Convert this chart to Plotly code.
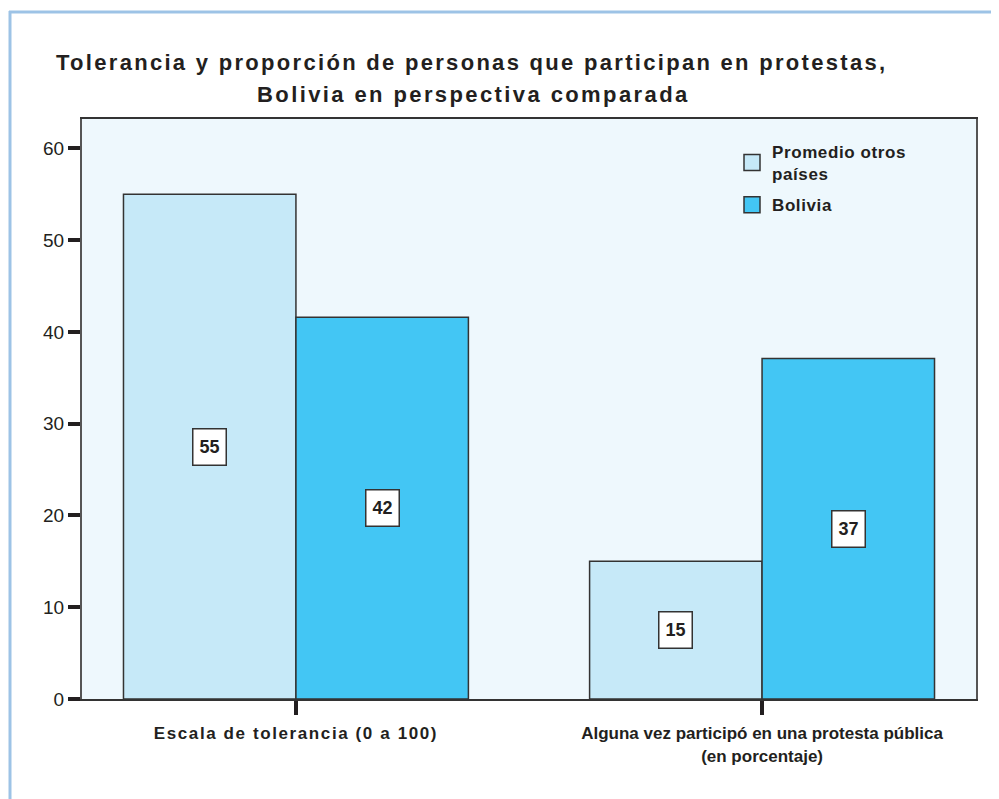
import plotly.graph_objects as go

categories = ["Escala de tolerancia (0 a 100)", "Alguna vez participó en una protesta pública (en porcentaje)"]
tick_labels = [
    "<span style=\"letter-spacing:1.6px\"><b>Escala de tolerancia (0 a 100)</b></span>",
    "<b>Alguna vez participó en una protesta pública<br>(en porcentaje)</b>",
]
series_names = ["Promedio otros<br>países", "Bolivia"]
otros = [55.0, 15.0]
bolivia = [41.6, 37.1]
y_ticks = [0, 10, 20, 30, 40, 50, 60]
title_lines = [
    "Tolerancia y proporción de personas que participan en protestas,",
    "Bolivia en perspectiva comparada",
]

colors = ["#C6E9F8", "#43C6F4"]
x_idx = list(range(len(categories)))
FONT = "Liberation Sans, Arial, Helvetica, sans-serif"
INK = "#231F20"
EDGE = "#333333"

fig = go.Figure()
for name, vals, col in zip(series_names, [otros, bolivia], colors):
    fig.add_trace(go.Bar(
        x=x_idx, y=vals, name=name, legendgroup=name, showlegend=False,
        marker=dict(color=col, line=dict(color=EDGE, width=1.5)),
        hoverinfo="skip",
    ))
# legend entries (larger square swatches)
for name, col in zip(series_names, colors):
    fig.add_trace(go.Scatter(
        x=[None], y=[None], mode="markers", legendgroup=name, showlegend=True,
        name="<span style=\"letter-spacing:0.6px\"><b>%s</b></span>" % name,
        marker=dict(symbol="square", size=16, color=col, line=dict(color=EDGE, width=1.5)),
        hoverinfo="skip",
    ))

# page body has an 8px margin: figure sits at (8, 8)
OFF = 8
PL, PR, PT, PB = 82, 976, 119, 699  # plot area in window pixels
W, H = 999, 799 - OFF
pw, ph = PR - PL, PB - PT
def px(xa):
    return (xa - PL) / pw
def py(ya):
    return (PB - ya) / ph

bar_w = 0.37
annots = []
for s, vals in enumerate([otros, bolivia]):
    off = (s - 0.5) * bar_w
    for i, v in enumerate(vals):
        annots.append(dict(
            x=x_idx[i] + off, y=v / 2, xref="x", yref="y",
            text="<b>%d</b>" % round(v), showarrow=False,
            font=dict(family=FONT, size=18, color=INK),
            bgcolor="white", bordercolor=EDGE, borderwidth=1.5,
            width=30, height=33,
        ))

for line, (cx, cy, ls) in zip(title_lines, [(471, 62, 2.3), (473, 95, 2.4)]):
    annots.append(dict(
        x=px(cx), y=py(cy), xref="paper", yref="paper", xanchor="center", yanchor="middle",
        text="<span style=\"letter-spacing:%spx\"><b>%s</b></span>" % (ls, line),
        showarrow=False, font=dict(family=FONT, size=22, color=INK),
    ))

frame = "#9DC3E6"
shapes = [
    dict(type="line", xref="paper", yref="paper", x0=px(9), x1=px(1010), y0=py(12), y1=py(12),
         line=dict(color=frame, width=3)),
    dict(type="line", xref="paper", yref="paper", x0=px(10), x1=px(10), y0=py(11), y1=py(810),
         line=dict(color=frame, width=3)),
]

fig.update_layout(
    width=W, height=H,
    margin=dict(l=PL - OFF, r=W + OFF - PR, t=PT - OFF, b=H + OFF - PB, pad=0),
    paper_bgcolor="white", plot_bgcolor="#EEF8FD",
    barmode="group", bargap=0.26, bargroupgap=0,
    font=dict(family=FONT, color=INK),
    showlegend=True,
    legend=dict(
        x=px(732), y=py(134), xanchor="left", yanchor="top",
        bgcolor="rgba(0,0,0,0)", font=dict(size=17, color=INK, family=FONT),
        tracegroupgap=6, traceorder="grouped", itemsizing="trace",
    ),
    annotations=annots, shapes=shapes,
    xaxis=dict(
        range=[-0.459, 1.459], tickmode="array", tickvals=x_idx, ticktext=tick_labels,
        ticks="outside", ticklen=14, tickwidth=4, tickcolor=INK, ticklabelstandoff=4,
        showline=True, linecolor=EDGE, linewidth=2, mirror=True,
        showgrid=False, zeroline=False,
        tickfont=dict(size=17, color=INK, family=FONT),
    ),
    yaxis=dict(
        range=[0, 63.2], tickmode="array", tickvals=y_ticks,
        ticks="outside", ticklen=12, tickwidth=4, tickcolor=INK,
        showline=True, linecolor="#555555", linewidth=2, mirror=True,
        showgrid=False, zeroline=False,
        tickfont=dict(size=19, color=INK, family=FONT),
    ),
)

fig.write_html("out.html")
